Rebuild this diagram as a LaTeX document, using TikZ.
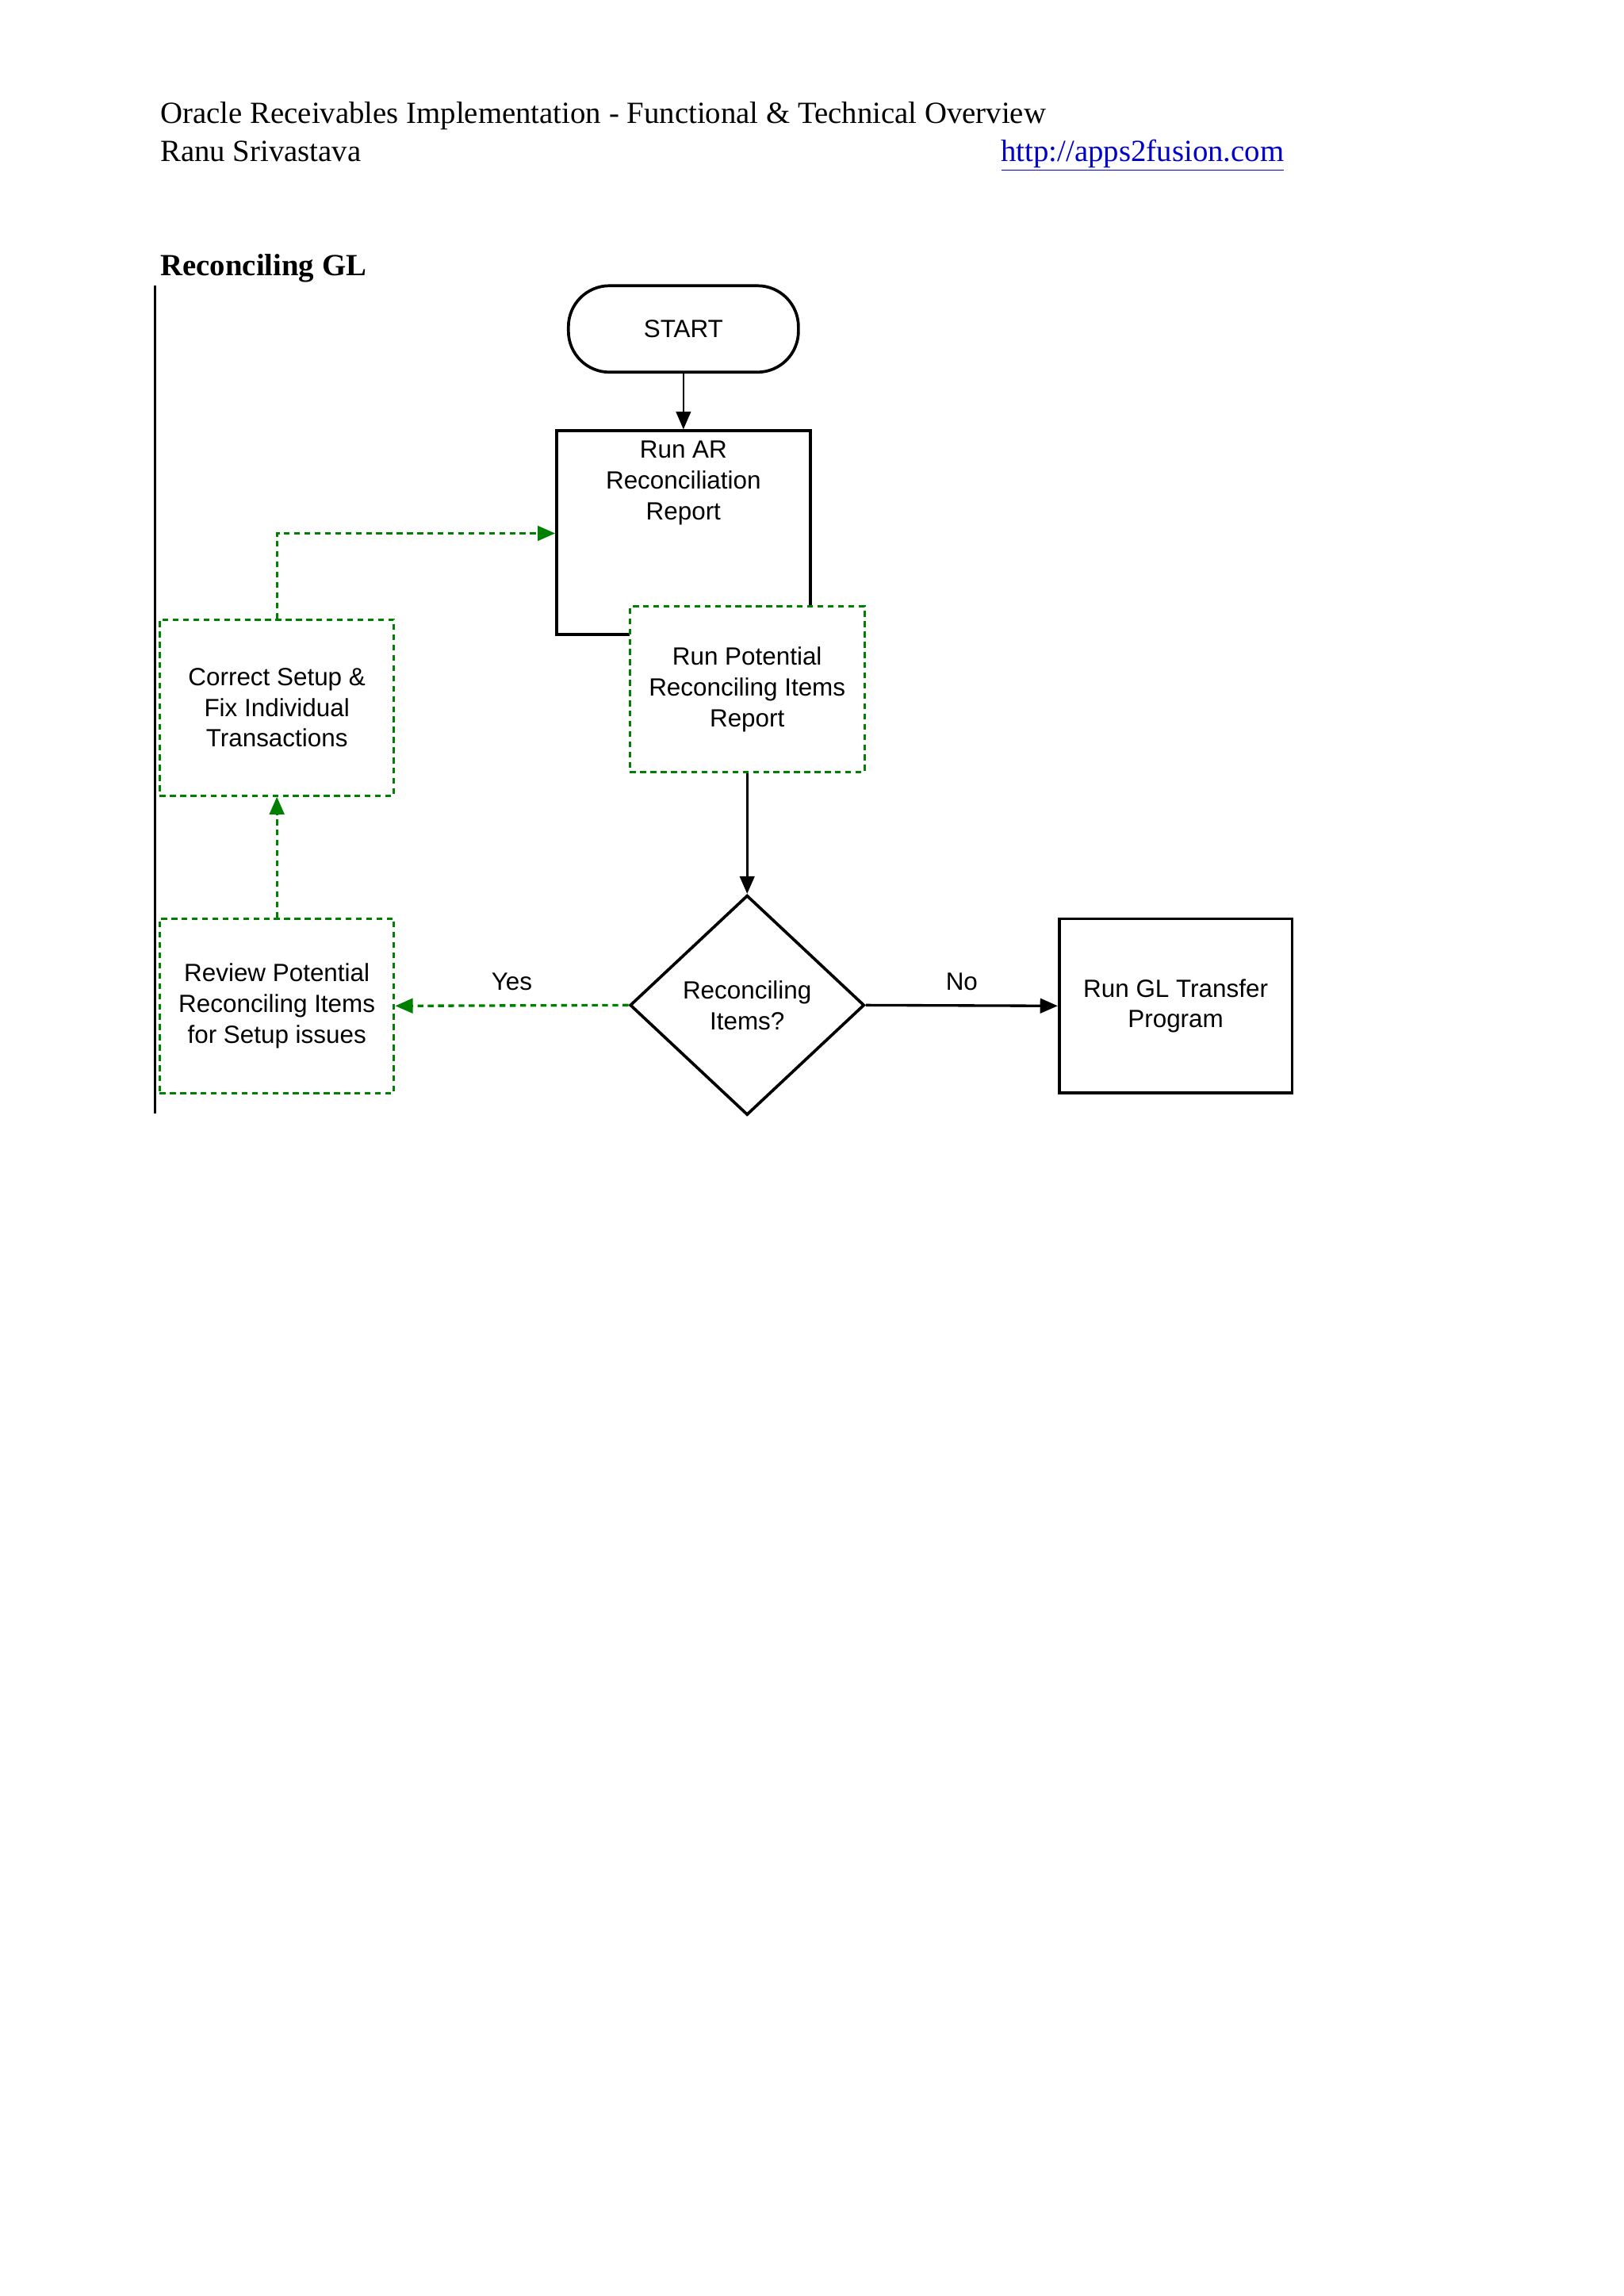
\documentclass[tikz,border=0pt]{standalone}
\usepackage{fontspec}
\setmainfont{Liberation Serif}
\newfontfamily\diagfont{Liberation Sans}
\usetikzlibrary{shapes.geometric,arrows.meta}
\begin{document}
\begin{tikzpicture}[x=1pt,y=-1pt,
  box/.style={draw,line width=2pt,fill=white,align=center,font=\diagfont\fontsize{17}{21}\selectfont,inner sep=0pt},
  gbox/.style={box,draw=green!50!black,line width=1.6pt,dash pattern=on 4pt off 3pt},
  arr/.style={-{Triangle[length=12pt,width=10pt]},line width=1.8pt},
  garr/.style={arr,green!50!black,dash pattern=on 4pt off 3pt},
  lbl/.style={font=\diagfont\fontsize{17}{21}\selectfont}]
\useasboundingbox (0,0) rectangle (1108,1567);
\fill[white] (0,0) rectangle (1108,1567);
\node[anchor=base west,font=\fontsize{21}{25}\selectfont] (h1) at (106,84) {Oracle Receivables Implementation - Functional \& Technical Overview};
\node[anchor=base west,font=\fontsize{21}{25}\selectfont] (h2) at (106,110) {Ranu Srivastava};
\node[anchor=base east,font=\fontsize{21}{25}\selectfont,text=blue!80!black] (h3) at (880,110) {\underline{http://apps2fusion.com}};
\node[anchor=base west,font=\bfseries\fontsize{21}{25}\selectfont] (h4) at (106,188) {Reconciling GL};
\draw[line width=1.5pt] (106,195) coordinate (v1) -- (106,760) coordinate (v2);

\node[box,rounded corners=28pt,minimum width=157pt,minimum height=59pt] (start) at (466.5,224.5) {START};
\node[box,minimum width=173pt,minimum height=139pt,text depth=30pt] (ar) at (466.5,363.5) {Run AR\\Reconciliation\\Report\\[20pt]};
\node[gbox,minimum width=160pt,minimum height=113pt] (pot) at (510,470.5) {Run Potential\\Reconciling Items\\Report};
\node[box,diamond,minimum width=160pt,minimum height=150pt] (dec) at (510,686) {Reconciling\\Items?};
\node[box,minimum width=159pt,minimum height=119pt] (gl) at (802.5,686.5) {Run GL Transfer\\Program};
\node[gbox,minimum width=160pt,minimum height=119pt] (rev) at (189,686.5) {Review Potential\\Reconciling Items\\for Setup issues};
\node[gbox,minimum width=160pt,minimum height=120pt] (cor) at (189,483) {Correct Setup \&\\Fix Individual\\Transactions};

\draw[arr,line width=1.3pt] (start) -- (ar.north -| start);
\draw[arr] (pot) -- (dec.north);
\draw[arr] (dec.east) -- node[lbl,above=6pt] {No} (gl.west);
\draw[garr] (dec.west) -- node[lbl,above=6pt,text=black] {Yes} (rev.east);
\draw[garr] (rev.north) -- (cor.south);
\draw[garr] (cor.north) -- (189,364) -- (ar.west |- 0,364);
\end{tikzpicture}
\end{document}
